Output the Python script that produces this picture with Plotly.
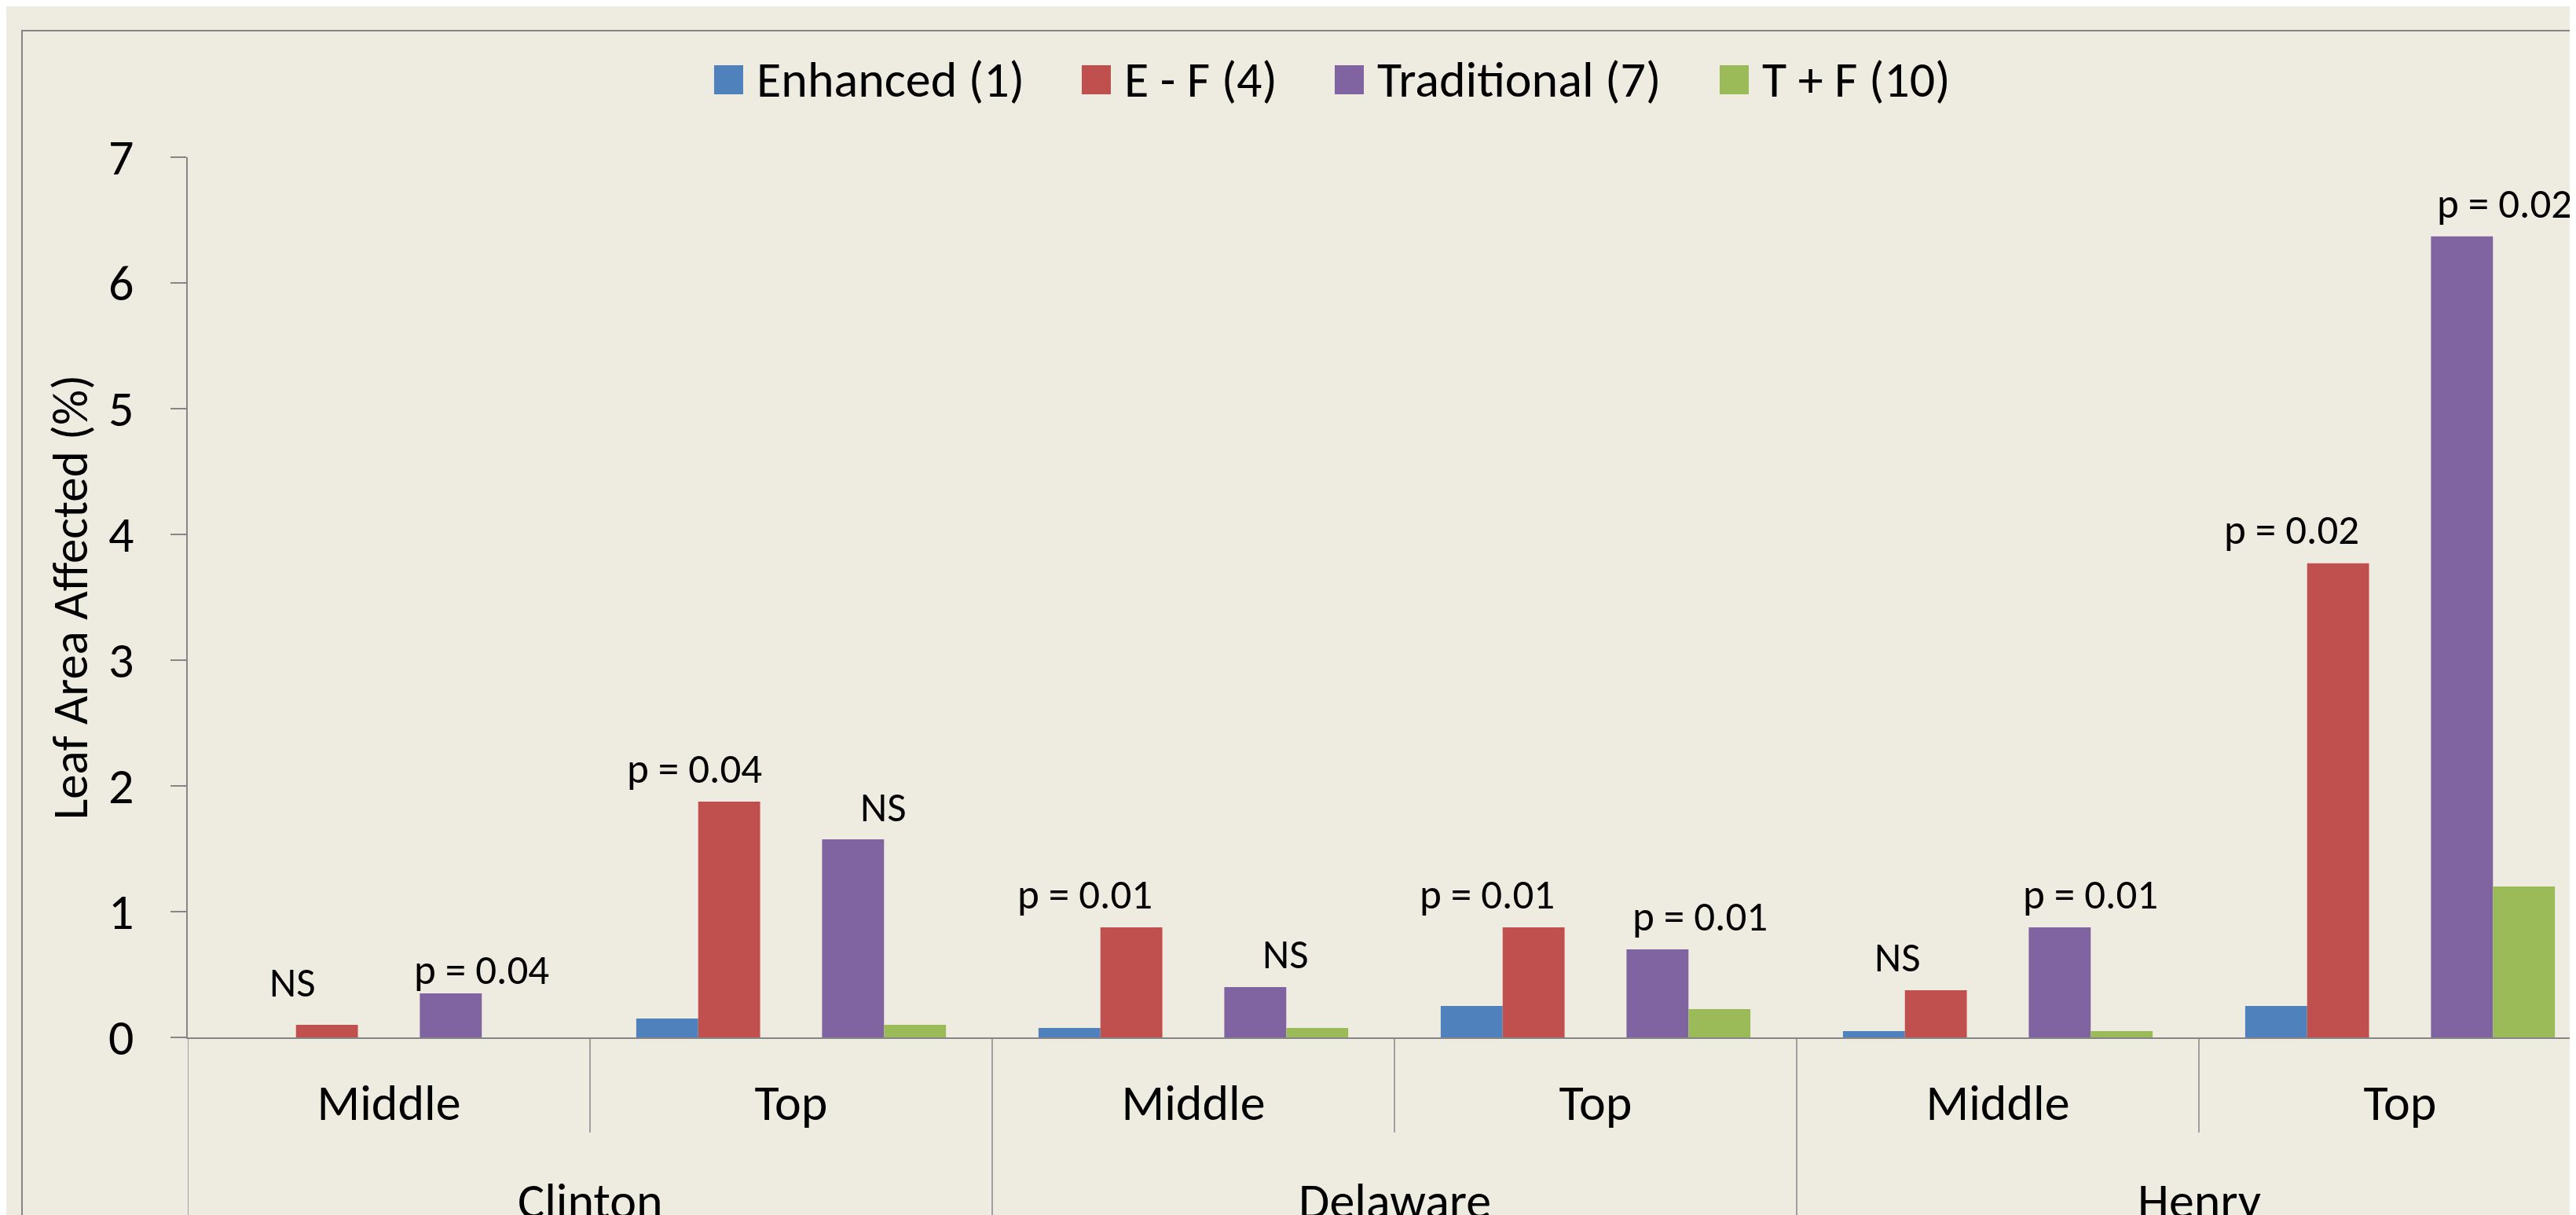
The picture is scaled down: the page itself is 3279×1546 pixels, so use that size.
import plotly.graph_objects as go

# categories (outer group / inner level)
groups = ["Clinton", "Delaware", "Henry"]
levels = ["Middle", "Top"]

# series, in leaf area affected (%)
series_names = ["Enhanced (1)", "E - F (4)", "Traditional (7)", "T + F (10)"]
enhanced = [0.0, 0.15, 0.075, 0.25, 0.05, 0.25]
e_f = [0.10, 1.875, 0.875, 0.875, 0.375, 3.77]
traditional = [0.35, 1.575, 0.40, 0.70, 0.875, 6.37]
t_f = [0.0, 0.10, 0.075, 0.225, 0.05, 1.20]

colors = ["#4F81BD", "#C0504D", "#8064A2", "#9BBB59"]

# significance labels: text, x (category units), y (value units)
sig_labels = [
    ("NS", -0.24, 0.44),
    ("p = 0.04", 0.23, 0.54),
    ("p = 0.04", 0.76, 2.14),
    ("NS", 1.23, 1.83),
    ("p = 0.01", 1.73, 1.14),
    ("NS", 2.23, 0.66),
    ("p = 0.01", 2.73, 1.14),
    ("p = 0.01", 3.26, 0.96),
    ("NS", 3.75, 0.64),
    ("p = 0.01", 4.23, 1.14),
    ("p = 0.02", 4.73, 4.04),
    ("p = 0.02", 5.26, 6.63),
]

W, H = 3279, 1546
PAGE = 8                  # body margin of the html page
L, T = 239, 200           # plot area left / top in screen px
PW, PH = W - L, 1320 - T  # plot area size in px
FONT = "Carlito, Lato, sans-serif"
BG = "#EEECE1"
GRID = "#868686"


def px_x(px):
    return (px - L) / PW


def px_y(py):
    return (T + PH - py) / PH


x_pos = list(range(len(groups) * len(levels)))
ticktext = [lv for g in groups for lv in levels]

bar_w = 0.154
offsets = [-2.5 * bar_w, -1.5 * bar_w, 0.5 * bar_w, 1.5 * bar_w]

fig = go.Figure()
for name, vals, col, off in zip(series_names, [enhanced, e_f, traditional, t_f], colors, offsets):
    fig.add_trace(go.Bar(x=x_pos, y=vals, name=name, marker_color=col,
                         marker_line_width=0, width=bar_w, offset=off))

shapes = []
# outer chart frame
shapes.append(dict(type="rect", xref="paper", yref="paper",
                   x0=px_x(28), y0=px_y(39), x1=px_x(3500), y1=px_y(1700),
                   line=dict(color=GRID, width=2), fillcolor="rgba(0,0,0,0)", layer="below"))
# dividers under the x axis
for i in range(len(x_pos)):
    xb = i - 0.5
    long_line = (i % len(levels) == 0)
    shapes.append(dict(type="line", xref="x", yref="paper", x0=xb, x1=xb,
                       y0=0, y1=px_y(1560 if long_line else 1441),
                       line=dict(color=GRID, width=1.5)))

annotations = []
for txt, xv, yv in sig_labels:
    annotations.append(dict(text=txt, x=xv, y=yv, xref="x", yref="y", showarrow=False,
                            font=dict(size=53, color="black", family=FONT)))
# outer group labels
for gi, g in enumerate(groups):
    annotations.append(dict(text=g, x=gi * len(levels) + 0.5, y=px_y(1528), xref="x", yref="paper",
                            showarrow=False, yanchor="middle",
                            font=dict(size=64, color="black", family=FONT)))

# legend drawn by hand so the swatches are as large as in the original
legend_x = [909, 1377, 1699, 2189]
for name, col, lx in zip(series_names, colors, legend_x):
    shapes.append(dict(type="rect", xref="paper", yref="paper",
                       x0=px_x(lx), x1=px_x(lx + 37), y0=px_y(120), y1=px_y(83),
                       line=dict(width=0), fillcolor=col))
    annotations.append(dict(text=name, x=px_x(lx + 52), y=px_y(101), xref="paper", yref="paper",
                            xanchor="left", yanchor="middle", showarrow=False,
                            font=dict(size=64, color="black", family=FONT)))

fig.update_layout(
    width=W - PAGE, height=H - PAGE,
    margin=dict(l=L - PAGE, r=0, t=T - PAGE, b=H - T - PH),
    paper_bgcolor=BG, plot_bgcolor=BG,
    showlegend=False,
    font=dict(family=FONT, color="black"),
    shapes=shapes, annotations=annotations,
)
fig.update_xaxes(range=[-0.5, -0.5 + PW / 512], tickvals=x_pos, ticktext=ticktext,
                 ticks="", ticklabelstandoff=26, tickfont=dict(size=64),
                 showline=True, linecolor=GRID, linewidth=2, showgrid=False, zeroline=False)
fig.update_yaxes(range=[0, 7], dtick=1, ticks="outside", ticklen=20, tickcolor=GRID, tickwidth=1.5,
                 tickfont=dict(size=64), ticklabelstandoff=34,
                 showline=True, linecolor=GRID, linewidth=1.5,
                 showgrid=False, zeroline=False,
                 title=dict(text="Leaf Area Affected (%)", font=dict(size=63), standoff=6))

fig.write_html("out.html")
